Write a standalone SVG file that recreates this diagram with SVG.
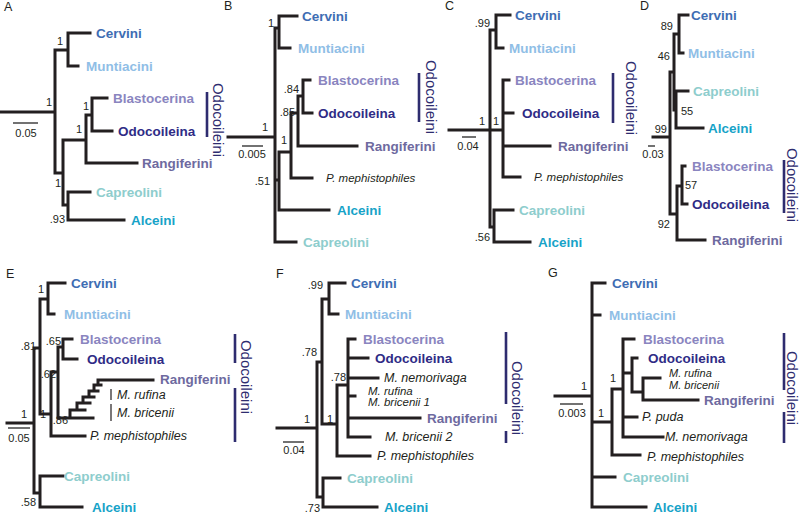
<svg xmlns="http://www.w3.org/2000/svg" width="800" height="514" viewBox="0 0 800 514">
<style>
text{font-family:"Liberation Sans",Arial,sans-serif}
.br{fill:none;stroke:#231f20;stroke-width:3;stroke-linecap:square}
.sb{fill:none;stroke:#444;stroke-width:1.3}
.thin{fill:none;stroke:#231f20;stroke-width:1.2}
.bar{fill:none;stroke:#2e2c6f;stroke-width:2.6}
.t{font-size:13.5px;font-weight:bold;dominant-baseline:central}
.sp{font-size:11.5px;font-style:italic;fill:#231f20;dominant-baseline:central}
.sp3{font-size:11px;font-style:italic;fill:#231f20;dominant-baseline:central}
.sp2{font-size:12.5px;font-style:italic;fill:#231f20;dominant-baseline:central}
.s{font-size:11px;fill:#231f20;text-anchor:end}
.sl{font-size:11px;fill:#231f20}
.sc{font-size:11px;fill:#231f20;text-anchor:middle}
.pl{font-size:12.5px;fill:#231f20}
.od{font-size:15px;fill:#2e2c6f;text-anchor:middle;dominant-baseline:central}
.cer{fill:#3e6db3}.mun{fill:#90bee6}.bla{fill:#8a85bf}.odo{fill:#2f2c86}.ran{fill:#6e6a9f}.cap{fill:#8ecdcd}.alc{fill:#17a3c8}
</style>

<g id="connectors">
<!-- A -->
<path class="br" d="M0,112 H55 M55,50 V173 M55,50 H68 M68,33 V66 M68,33 H90 M68,66 H78 M55,173 H63 M63,140 V205 M63,140 H86 M86,115 V163 M86,163 H137 M86,115 H92 M92,98 V131 M92,98 H107 M92,131 H112 M63,205 H68 M68,192 V220 M68,192 H90 M68,220 H124"/>
<!-- B -->
<path class="br" d="M228,137 H275 M275,28 V242 M275,28 H279 M279,16 V48 M279,16 H297 M279,48 H290 M275,180 H279 M279,152 V210 M279,210 H329 M279,152 H291 M291,113 V178 M291,178 H312 M291,113 H298 M298,96 V146 M298,146 H357 M298,96 H303 M303,80 V113 M303,80 H310 M303,113 H312 M275,242 H296"/>
<!-- C -->
<path class="br" d="M449,130 H490 M490,30 V227 M490,30 H496 M496,15 V48 M496,15 H510 M496,48 H503 M490,130 H503 M503,80 V177 M503,80 H509 M503,113 H513 M503,146 H550 M503,177 H520 M490,227 H494 M494,210 V242 M494,210 H513 M494,242 H530"/>
<!-- D -->
<path class="br" d="M653,137 H670 M670,72 V214 M670,72 H674 M674,34 V110 M674,34 H679 M679,15 V53 M679,15 H688 M679,53 H683 M674,110 H676 M676,91 V128 M676,91 H688 M676,128 H703 M670,214 H677 M677,186 V240 M677,240 H705 M677,186 H682 M682,166 V204 M682,166 H685 M682,204 H687"/>
<!-- E -->
<path class="br" d="M7,423 H34 M34,348 V493 M34,348 H40 M40,299 V414 M40,299 H48 M48,283 V314 M48,283 H65 M48,314 H54 M40,414 H51 M51,372 V436 M51,436 H85 M51,372 H58 M58,347 V418 M58,347 H63 M63,339 V359 M63,339 H72 M63,359 H77 M58,418 H93 M70,418 V410 H77 V403 H83 V397 H89 V391 H94 V385 H98 V380 H153 M77,410 H85 M83,403 H90 M89,397 H94 M94,391 H98 M98,385 H101 M34,493 H40 M40,476 V507 M40,476 H63 M40,507 H82"/>
<!-- F -->
<path class="br" d="M277,428 H317 M317,362 V497 M317,362 H322 M322,299 V424 M322,299 H329 M329,283 V314 M329,283 H345 M329,314 H338 M322,424 H337 M337,385 V456 M337,456 H370 M337,385 H348 M348,339 V437 M348,339 H355 M348,358 H368 M348,378 H378 M348,396 H355 M348,418 H420 M348,437 H370 M317,497 H323 M323,478 V507 M323,478 H340 M323,507 H377"/>
<!-- G -->
<path class="br" d="M555,396 H592 M592,283 V507 M592,283 H605 M592,315 H600 M592,422 H612 M612,389 V455 M612,455 H640 M612,389 H623 M623,339 V437 M623,339 H634 M623,373 H632 M632,358 V392 M632,358 H637 M632,392 H643 M643,378 V400 M643,378 H660 M643,400 H698 M623,417 H637 M623,437 H663 M592,477 H615 M592,507 H646"/>
<!-- scale bars -->
<path class="sb" d="M13,123 H38 M242,146 H263 M462,137 H476 M648,146 H655 M8,428 H30 M283,442 H304 M560,404 H583"/>
<!-- E species brackets -->
<path class="thin" d="M111,389 V400 M111,404 V421"/>
</g>

<!-- Panel A -->
<g id="panelA">
<text class="pl" x="4" y="11">A</text>
<g id="A-cervini"><text class="t cer" x="96" y="33">Cervini</text></g>
<g id="A-muntiacini"><text class="t mun" x="86" y="66">Muntiacini</text></g>
<g id="A-blastocerina"><text class="t bla" x="113" y="98">Blastocerina</text></g>
<g id="A-odocoileina"><text class="t odo" x="118" y="131">Odocoileina</text></g>
<g id="A-rangiferini"><text class="t ran" x="142" y="163">Rangiferini</text></g>
<g id="A-capreolini"><text class="t cap" x="96" y="192">Capreolini</text></g>
<g id="A-alceini"><text class="t alc" x="131" y="220">Alceini</text></g>
<g id="A-support"><text class="s" x="63" y="45">1</text><text class="s" x="52" y="106">1</text><text class="s" x="89" y="110">1</text><text class="s" x="82" y="133">1</text><text class="s" x="61" y="187">1</text><text class="s" x="65" y="223">.93</text></g>
<g id="A-scale"><text class="sc" x="26" y="137">0.05</text></g>
<g id="A-odocoileini"><path class="bar" d="M207,92 V137"/><text class="od" transform="translate(218,120) rotate(90)">Odocoileini</text></g>
</g>

<!-- Panel B -->
<g id="panelB">
<text class="pl" x="224" y="10">B</text>
<g id="B-cervini"><text class="t cer" x="302" y="16">Cervini</text></g>
<g id="B-muntiacini"><text class="t mun" x="298" y="48">Muntiacini</text></g>
<g id="B-blastocerina"><text class="t bla" x="318" y="80">Blastocerina</text></g>
<g id="B-odocoileina"><text class="t odo" x="318" y="113">Odocoileina</text></g>
<g id="B-rangiferini"><text class="t ran" x="365" y="146">Rangiferini</text></g>
<g id="B-pmeph"><text class="sp" x="326" y="178">P. mephistophiles</text></g>
<g id="B-alceini"><text class="t alc" x="337" y="210">Alceini</text></g>
<g id="B-capreolini"><text class="t cap" x="303" y="242">Capreolini</text></g>
<g id="B-support"><text class="s" x="274" y="27">1</text><text class="s" x="268" y="131">1</text><text class="s" x="299" y="93">.84</text><text class="s" x="295" y="116">.85</text><text class="s" x="287" y="144">1</text><text class="s" x="270" y="185">.51</text></g>
<g id="B-scale"><text class="sc" x="252" y="158">0.005</text></g>
<g id="B-odocoileini"><path class="bar" d="M419,73 V122"/><text class="od" transform="translate(431,97) rotate(90)">Odocoileini</text></g>
</g>

<!-- Panel C -->
<g id="panelC">
<text class="pl" x="445" y="10">C</text>
<g id="C-cervini"><text class="t cer" x="515" y="15">Cervini</text></g>
<g id="C-muntiacini"><text class="t mun" x="509" y="48">Muntiacini</text></g>
<g id="C-blastocerina"><text class="t bla" x="515" y="80">Blastocerina</text></g>
<g id="C-odocoileina"><text class="t odo" x="522" y="113">Odocoileina</text></g>
<g id="C-rangiferini"><text class="t ran" x="558" y="146">Rangiferini</text></g>
<g id="C-pmeph"><text class="sp" x="534" y="177">P. mephistophiles</text></g>
<g id="C-capreolini"><text class="t cap" x="519" y="210">Capreolini</text></g>
<g id="C-alceini"><text class="t alc" x="538" y="242">Alceini</text></g>
<g id="C-support"><text class="s" x="490" y="27">.99</text><text class="s" x="485" y="125">1</text><text class="s" x="499" y="125">1</text><text class="s" x="490" y="241">.56</text></g>
<g id="C-scale"><text class="sc" x="468" y="150">0.04</text></g>
<g id="C-odocoileini"><path class="bar" d="M613,73 V123"/><text class="od" transform="translate(631,98) rotate(90)">Odocoileini</text></g>
</g>

<!-- Panel D -->
<g id="panelD">
<text class="pl" x="640" y="10">D</text>
<g id="D-cervini"><text class="t cer" x="691" y="15">Cervini</text></g>
<g id="D-muntiacini"><text class="t mun" x="688" y="53">Muntiacini</text></g>
<g id="D-capreolini"><text class="t cap" x="693" y="91">Capreolini</text></g>
<g id="D-alceini"><text class="t alc" x="708" y="128">Alceini</text></g>
<g id="D-blastocerina"><text class="t bla" x="692" y="166">Blastocerina</text></g>
<g id="D-odocoileina"><text class="t odo" x="692" y="204">Odocoileina</text></g>
<g id="D-rangiferini"><text class="t ran" x="712" y="240">Rangiferini</text></g>
<g id="D-support"><text class="s" x="673" y="30">89</text><text class="s" x="670" y="60">46</text><text class="sl" x="681" y="115">55</text><text class="s" x="667" y="133">99</text><text class="sl" x="685" y="189">57</text><text class="s" x="670" y="228">92</text></g>
<g id="D-scale"><text class="sc" x="653" y="158">0.03</text></g>
<g id="D-odocoileini"><path class="bar" d="M784,160 V213"/><text class="od" transform="translate(792,185) rotate(90)">Odocoileini</text></g>
</g>

<!-- Panel E -->
<g id="panelE">
<text class="pl" x="6" y="278">E</text>
<g id="E-cervini"><text class="t cer" x="71" y="283">Cervini</text></g>
<g id="E-muntiacini"><text class="t mun" x="64" y="314">Muntiacini</text></g>
<g id="E-blastocerina"><text class="t bla" x="80" y="339">Blastocerina</text></g>
<g id="E-odocoileina"><text class="t odo" x="87" y="359">Odocoileina</text></g>
<g id="E-rangiferini"><text class="t ran" x="160" y="379">Rangiferini</text></g>
<g id="E-mrufina"><text class="sp2" x="117" y="395">M. rufina</text></g>
<g id="E-mbricenii"><text class="sp2" x="117" y="413">M. bricenii</text></g>
<g id="E-pmeph"><text class="sp2" x="90" y="436">P. mephistophiles</text></g>
<g id="E-capreolini"><text class="t cap" x="64" y="476">Capreolini</text></g>
<g id="E-alceini"><text class="t alc" x="92" y="507">Alceini</text></g>
<g id="E-support"><text class="s" x="44" y="293">1</text><text class="s" x="36" y="350">.81</text><text class="s" x="61" y="345">.65</text><text class="s" x="56" y="378">.62</text><text class="s" x="27" y="418">1</text><text class="s" x="46" y="418">1</text><text class="s" x="68" y="424">.86</text><text class="s" x="36" y="506">.58</text></g>
<g id="E-scale"><text class="sc" x="19" y="442">0.05</text></g>
<g id="E-odocoileini"><path class="bar" d="M235,334 V363 M235,388 V442"/><text class="od" transform="translate(246,377) rotate(90)">Odocoileini</text></g>
</g>

<!-- Panel F -->
<g id="panelF">
<text class="pl" x="276" y="278">F</text>
<g id="F-cervini"><text class="t cer" x="351" y="283">Cervini</text></g>
<g id="F-muntiacini"><text class="t mun" x="345" y="314">Muntiacini</text></g>
<g id="F-blastocerina"><text class="t bla" x="363" y="339">Blastocerina</text></g>
<g id="F-odocoileina"><text class="t odo" x="375" y="358">Odocoileina</text></g>
<g id="F-mnemorivaga"><text class="sp2" x="384" y="378">M. nemorivaga</text></g>
<g id="F-mrufina"><text class="sp" x="368" y="391">M. rufina</text></g>
<g id="F-mbricenii1"><text class="sp" x="368" y="402">M. bricenii 1</text></g>
<g id="F-rangiferini"><text class="t ran" x="427" y="418">Rangiferini</text></g>
<g id="F-mbricenii2"><text class="sp2" x="385" y="437">M. bricenii 2</text></g>
<g id="F-pmeph"><text class="sp2" x="377" y="456">P. mephistophiles</text></g>
<g id="F-capreolini"><text class="t cap" x="347" y="478">Capreolini</text></g>
<g id="F-alceini"><text class="t alc" x="384" y="507">Alceini</text></g>
<g id="F-support"><text class="s" x="323" y="289">.99</text><text class="s" x="317" y="356">.78</text><text class="s" x="346" y="381">.78</text><text class="s" x="310" y="423">1</text><text class="s" x="333" y="423">1</text><text class="s" x="320" y="512">.73</text></g>
<g id="F-scale"><text class="sc" x="294" y="454">0.04</text></g>
<g id="F-odocoileini"><path class="bar" d="M506,332 V404 M506,431 V443"/><text class="od" transform="translate(517,398) rotate(90)">Odocoileini</text></g>
</g>

<!-- Panel G -->
<g id="panelG">
<text class="pl" x="548" y="277">G</text>
<g id="G-cervini"><text class="t cer" x="612" y="283">Cervini</text></g>
<g id="G-muntiacini"><text class="t mun" x="609" y="315">Muntiacini</text></g>
<g id="G-blastocerina"><text class="t bla" x="643" y="339">Blastocerina</text></g>
<g id="G-odocoileina"><text class="t odo" x="648" y="358">Odocoileina</text></g>
<g id="G-mrufina"><text class="sp3" x="669" y="373">M. rufina</text></g>
<g id="G-mbricenii"><text class="sp3" x="669" y="385">M. bricenii</text></g>
<g id="G-rangiferini"><text class="t ran" x="704" y="400">Rangiferini</text></g>
<g id="G-ppuda"><text class="sp2" x="642" y="417">P. puda</text></g>
<g id="G-mnemorivaga"><text class="sp2" x="665" y="437">M. nemorivaga</text></g>
<g id="G-pmeph"><text class="sp2" x="647" y="457">P. mephistophiles</text></g>
<g id="G-capreolini"><text class="t cap" x="623" y="477">Capreolini</text></g>
<g id="G-alceini"><text class="t alc" x="653" y="507">Alceini</text></g>
<g id="G-support"><text class="s" x="587" y="390">1</text><text class="s" x="604" y="417">1</text><text class="s" x="616" y="382">1</text></g>
<g id="G-scale"><text class="sc" x="572" y="417">0.003</text></g>
<g id="G-odocoileini"><path class="bar" d="M784,333 V390 M784,412 V443"/><text class="od" transform="translate(792,388) rotate(90)">Odocoileini</text></g>
</g>
</svg>
